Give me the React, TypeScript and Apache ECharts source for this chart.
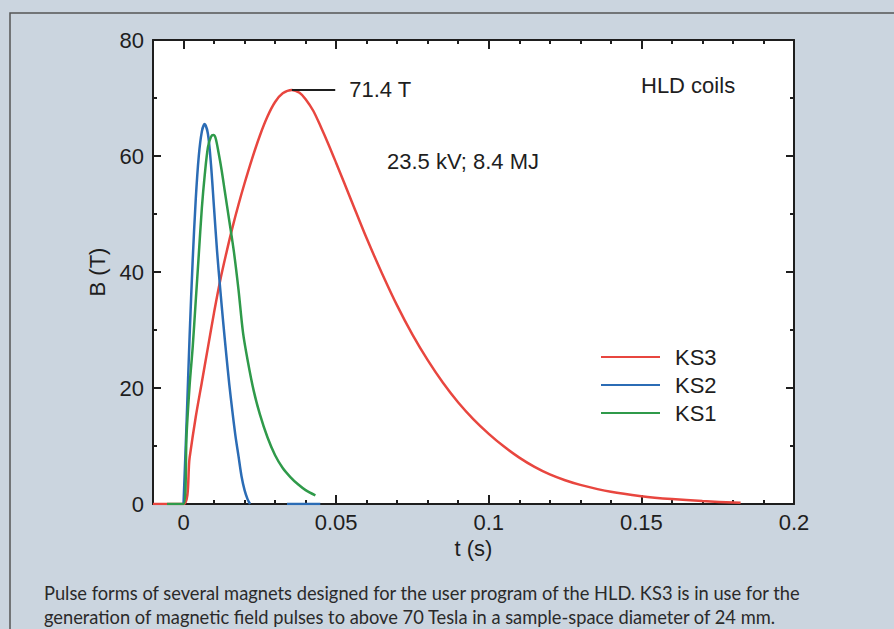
import React, { useEffect, useRef } from 'react';
import * as echarts from 'echarts';

// ---- data ----
const ks3T = [-0.01, 0, 0.002, 0.004, 0.006, 0.008, 0.01, 0.012, 0.014, 0.016, 0.018, 0.02, 0.0225, 0.025, 0.0275, 0.03, 0.0325, 0.0355, 0.038, 0.04, 0.0425, 0.045, 0.0475, 0.05, 0.055, 0.06, 0.065, 0.07, 0.075, 0.08, 0.085, 0.09, 0.095, 0.1, 0.105, 0.11, 0.115, 0.12, 0.125, 0.13, 0.14, 0.15, 0.16, 0.17, 0.1825];
const ks3B = [0, 0, 8, 15, 21, 27, 33, 38.5, 43.2, 47.6, 51.6, 55.3, 59.6, 63.5, 66.8, 69.3, 70.8, 71.4, 70.9, 69.8, 67.8, 65, 62, 58.8, 52.3, 45.8, 39.8, 34.2, 29.2, 24.8, 20.9, 17.5, 14.6, 12.1, 9.9, 8.0, 6.4, 5.1, 4.1, 3.3, 2.1, 1.35, 0.85, 0.5, 0.2];

const ks2T = [0, 0.001, 0.002, 0.003, 0.004, 0.005, 0.006, 0.0069, 0.008, 0.009, 0.01, 0.011, 0.012, 0.013, 0.014, 0.015, 0.016, 0.017, 0.018, 0.019, 0.02, 0.021, 0.0218];
const ks2B = [0, 14, 29, 42, 52.5, 60, 64.2, 65.5, 63.8, 58.5, 51, 43.5, 37.2, 31.3, 25.8, 20.6, 16, 11.8, 8.3, 4.8, 2.4, 0.8, 0];
const ks2TailT = [0.0339, 0.0448];
const ks2TailB = [0, 0];

const ks1T = [-0.0054, 0, 0.001, 0.002, 0.003, 0.004, 0.005, 0.006, 0.007, 0.008, 0.009, 0.0098, 0.0105, 0.0115, 0.0125, 0.0135, 0.015, 0.0165, 0.018, 0.0195, 0.021, 0.023, 0.025, 0.0275, 0.03, 0.0325, 0.035, 0.0375, 0.04, 0.0432];
const ks1B = [0, 0, 12, 20.5, 27, 35, 43, 51, 57, 61.5, 63.3, 63.6, 63.1, 60.5, 57.5, 54, 48.8, 43.5, 37, 29.5, 24.8, 19.5, 15.5, 11.5, 8.4, 6.2, 4.65, 3.4, 2.4, 1.5];

const seriesNames = ['KS3', 'KS2', 'KS1'];
const xMajorTicks = [0, 0.05, 0.1, 0.15, 0.2];
const peakT = 0.0355;
const peakB = 71.4;
const peakLineEndT = 0.0497;
const peakLabel = '71.4 T';
const infoLabel = '23.5 kV; 8.4 MJ';
const titleLabel = 'HLD coils';
const xName = 't (s)';
const yName = 'B (T)';
const caption1 = 'Pulse forms of several magnets designed for the user program of the HLD. KS3 is in use for the';
const caption2 = 'generation of magnetic field pulses to above 70 Tesla in a sample-space diameter of 24 mm.';

const pairs = (t: number[], b: number[]) => t.map((v, i) => [v, b[i]]);

const FONT = '"Liberation Sans", Arial, Helvetica, sans-serif';
const INK = '#1e1e1e';
const RED = '#e8463f';
const BLUE = '#2b6cb5';
const GREEN = '#2f9a4a';

export default function App() {
  const ref = useRef<HTMLDivElement>(null);
  useEffect(() => {
    document.body.style.margin = '0';
    const chart = echarts.init(ref.current!, null, { renderer: 'svg' });
    const fmt = (v: number) => String(Math.round(v * 1000) / 1000);
    const axisLine = { show: true, onZero: false, lineStyle: { color: INK, width: 2 } };
    const baseX = {
      type: 'value', min: -0.01, max: 0.2, splitLine: { show: false },
    };
    const option: any = {
      animation: false,
      backgroundColor: '#cbd5df',
      textStyle: { fontFamily: FONT },
      grid: {
        left: 153, top: 40, right: 100, bottom: 125,
        show: true, backgroundColor: '#ffffff', borderWidth: 0,
      },
      legend: {
        data: seriesNames,
        orient: 'vertical',
        left: 596, top: 341,
        itemWidth: 59, itemHeight: 14, itemGap: 6,
        icon: 'path://M0,6 L59,6 L59,8 L0,8 Z',
        textStyle: { fontSize: 22, color: INK, fontFamily: FONT, padding: [0, 0, 0, 10] },
      },
      xAxis: [
        {
          ...baseX, position: 'bottom', axisLine,
          name: xName, nameLocation: 'middle', nameGap: 26,
          nameTextStyle: { fontSize: 22, color: INK, fontFamily: FONT },
          axisTick: { show: true, inside: true, length: 9, lineStyle: { color: INK, width: 2 }, customValues: xMajorTicks },
          axisLabel: { show: true, fontSize: 22, color: INK, fontFamily: FONT, margin: 7, customValues: xMajorTicks, formatter: fmt },
        },
        {
          ...baseX, position: 'bottom', interval: 0.01, axisLine: { show: false, onZero: false },
          axisTick: { show: true, inside: true, length: 4, lineStyle: { color: INK, width: 2 } },
          axisLabel: { show: false },
        },
        {
          ...baseX, position: 'top', axisLine,
          axisTick: { show: true, inside: true, length: 9, lineStyle: { color: INK, width: 2 }, customValues: xMajorTicks },
          axisLabel: { show: false, customValues: xMajorTicks },
        },
        {
          ...baseX, position: 'top', interval: 0.01, axisLine: { show: false, onZero: false },
          axisTick: { show: true, inside: true, length: 4, lineStyle: { color: INK, width: 2 } },
          axisLabel: { show: false },
        },
      ],
      yAxis: [
        {
          type: 'value', min: 0, max: 80, interval: 20, position: 'left', axisLine,
          splitLine: { show: false },
          name: yName, nameLocation: 'middle', nameGap: 40, nameRotate: 90,
          nameTextStyle: { fontSize: 22, color: INK, fontFamily: FONT },
          axisTick: { show: true, inside: true, length: 8, lineStyle: { color: INK, width: 2 } },
          minorTick: { show: true, splitNumber: 2, length: 4, lineStyle: { color: INK, width: 2 } },
          axisLabel: { fontSize: 22, color: INK, fontFamily: FONT, margin: 9 },
        },
        {
          type: 'value', min: 0, max: 80, interval: 20, position: 'right', axisLine,
          splitLine: { show: false },
          axisTick: { show: true, inside: true, length: 8, lineStyle: { color: INK, width: 2 } },
          minorTick: { show: true, splitNumber: 2, length: 4, lineStyle: { color: INK, width: 2 } },
          axisLabel: { show: false },
        },
      ],
      series: [
        {
          name: 'KS3', type: 'line', data: pairs(ks3T, ks3B), smooth: 0.3, symbol: 'none',
          lineStyle: { color: RED, width: 2.5 }, itemStyle: { color: RED },
          markLine: {
            silent: true, symbol: 'none',
            lineStyle: { color: INK, width: 2, type: 'solid' },
            label: { show: true, position: 'end', formatter: peakLabel, fontSize: 22, color: INK, fontFamily: FONT, distance: 14 },
            data: [[{ coord: [peakT, peakB] }, { coord: [peakLineEndT, peakB] }]],
          },
        },
        {
          name: 'KS2', type: 'line', data: [...pairs(ks2T, ks2B), '-', ...pairs(ks2TailT, ks2TailB)],
          smooth: 0.3, symbol: 'none', connectNulls: false,
          lineStyle: { color: BLUE, width: 2.5 }, itemStyle: { color: BLUE },
        },
        {
          name: 'KS1', type: 'line', data: pairs(ks1T, ks1B), smooth: 0.3, symbol: 'none',
          lineStyle: { color: GREEN, width: 2.5 }, itemStyle: { color: GREEN },
        },
      ],
      graphic: [
        { type: 'rect', shape: { x: 10, y: 13, width: 900, height: 640 }, style: { fill: 'none', stroke: '#555', lineWidth: 1.5 }, silent: true },
        { type: 'text', left: 387, top: 150, style: { text: infoLabel, fontSize: 22, fill: INK, fontFamily: FONT } },
        { type: 'text', left: 641, top: 74, style: { text: titleLabel, fontSize: 22, fill: INK, fontFamily: FONT } },
        { type: 'text', x: 44, y: 593, style: { text: caption1, fontSize: 18.3, fill: '#2a2a2a', fontFamily: 'Lato, sans-serif', verticalAlign: 'middle' } },
        { type: 'text', x: 44, y: 617, style: { text: caption2, fontSize: 18.3, fill: '#2a2a2a', fontFamily: 'Lato, sans-serif', verticalAlign: 'middle' } },
      ],
    };
    chart.setOption(option);
    return () => chart.dispose();
  }, []);
  return <div ref={ref} style={{ width: 894, height: 629, position: 'absolute', left: 0, top: 0 }} />;
}
